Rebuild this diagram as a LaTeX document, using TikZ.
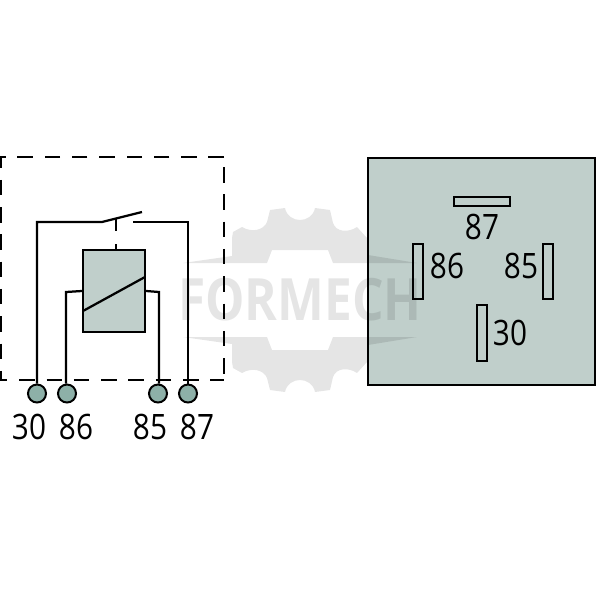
\documentclass[tikz,border=0pt]{standalone}
\usepackage{fontspec}
\setmainfont[FakeStretch=0.85]{Open Sans}
\usetikzlibrary{positioning,calc}
\definecolor{relaygrey}{HTML}{C0CFCB}
\definecolor{pingreen}{HTML}{8DB0A8}
\tikzset{
	wire/.style={line width=1.6pt, line join=miter},
	housing/.style={line width=2.1pt, dash pattern=on 0.3875cm off 0.295cm},
	pinnode/.style={circle, draw, line width=1.4pt, fill=pingreen, minimum size=0.45cm, inner sep=0pt},
	bladenode/.style={rectangle, draw, line width=1.4pt, fill=relaygrey, inner sep=0pt},
	pinlabel/.style={inner sep=0pt, font=\fontsize{24.9}{30}\selectfont},
	markshape/.style={fill=black, fill opacity=0.1, draw=none}
}

\begin{document}
\begin{tikzpicture}[x=0.025cm, y=-0.025cm]
	\useasboundingbox (0,0) rectangle (600,600);

	% left side: circuit
	\draw[housing] (224,157) -- (1,157) -- (1,380) -- (224,380);
	\draw[housing] (224,167) -- (224,380);
	\node[rectangle, draw, line width=1.6pt, fill=relaygrey, minimum width=1.55cm, minimum height=2.05cm, inner sep=0pt] (coil) at (114,291) {};
	\node[pinnode] (pin30) at (37,393.5) {};
	\node[pinnode] (pin86) at (67,393.5) {};
	\node[pinnode] (pin85) at (158,393.5) {};
	\node[pinnode] (pin87) at (188,393.5) {};
	\coordinate (contA) at (102,222);
	\coordinate (contB) at (133,222);
	\coordinate (leverEnd) at (142,212);
	\coordinate (leverMid) at (116,218);
	\coordinate (diagA) at (83,311);
	\coordinate (diagB) at (145,277);
	\coordinate (coilL) at (66,292);
	\coordinate (coilR) at (159,292);

	\draw[wire] (pin30.north) |- (contA) -- (leverEnd);
	\draw[wire] (contB) -| (pin87.north);
	\draw[wire] (pin86.north -| coilL) -- (coilL) -- (coil.west);
	\draw[wire] (pin85.north -| coilR) -- (coilR) -- (coil.east);
	\draw[wire, dash pattern=on 0.33cm off 0.32cm] (leverMid) -- (coil.north -| leverMid);
	\draw[wire] (diagA) -- (diagB);

	\node[pinlabel] (lab30) at (29,427) {30};
	\node[pinlabel] (lab86) at (76,427) {86};
	\node[pinlabel] (lab85) at (150,427) {85};
	\node[pinlabel] (lab87) at (197,427) {87};

	% right side: socket
	\node[rectangle, draw, line width=1.6pt, fill=relaygrey, minimum size=5.675cm, inner sep=0pt] (socket) at (481.5,271.5) {};
	\node[bladenode, minimum width=1.4cm, minimum height=0.225cm] (blade87) at (482,201.5) {};
	\node[bladenode, minimum width=0.25cm, minimum height=1.375cm] (blade86) at (418,271.5) {};
	\node[bladenode, minimum width=0.25cm, minimum height=1.375cm] (blade85) at (548,271.5) {};
	\node[bladenode, minimum width=0.25cm, minimum height=1.4cm] (blade30) at (482,333) {};
	\node[pinlabel] (sock87) at (482,227) {87};
	\node[pinlabel] (sock86) at (447,266) {86};
	\node[pinlabel] (sock85) at (521,266) {85};
	\node[pinlabel] (sock30) at (510,333) {30};

	% watermark
	\foreach \m in {1,-1} {
		\begin{scope}[shift={(0,300)}, yscale=\m]
			\fill[markshape] (183,-37) -- (232,-44) -- (232,-62) -- (233,-68) -- (242,-73)
				.. controls (252,-67) and (264,-70) .. (267,-78) -- (270,-90) -- (285,-92)
				.. controls (288,-76) and (312,-76) .. (315,-92) -- (330,-90) -- (333,-77)
				.. controls (336,-68) and (348,-67) .. (357,-73) -- (367,-62) -- (368,-45)
				-- (417,-37) -- (333,-37) -- (328,-50) -- (272,-50) -- (267,-37) -- cycle;
		\end{scope}
	}
	\node[inner sep=0pt, text opacity=0.1, font=\fontsize{41.5}{48}\selectfont\bfseries] (brand) at (300,300) {FORMECH};
\end{tikzpicture}
\end{document}
